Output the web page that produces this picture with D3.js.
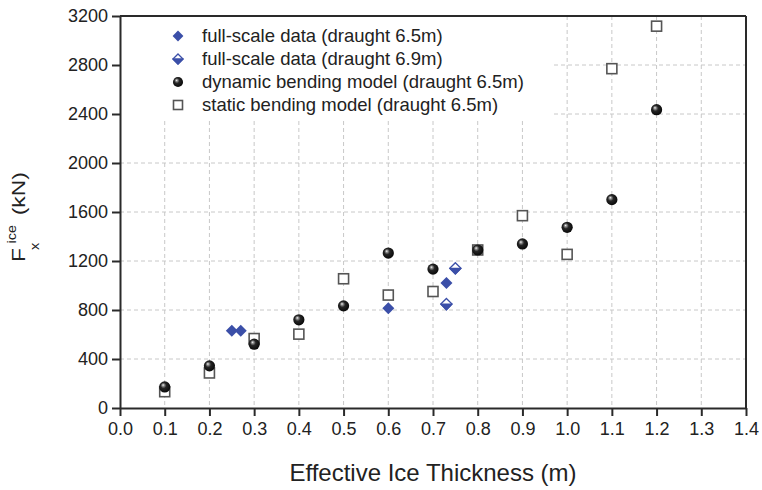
<!DOCTYPE html>
<html>
<head>
<meta charset="utf-8">
<script src="https://cdn.jsdelivr.net/npm/d3@7"></script>
<style>
  html, body { margin: 0; padding: 0; background: #fff; }
  svg { display: block; font-family: "Liberation Sans", Arial, Helvetica, sans-serif; }
</style>
</head>
<body>
<svg id="chart" width="762" height="490"></svg>
<script>
// Ice load vs. effective ice thickness
const xTicks = [0.0, 0.1, 0.2, 0.3, 0.4, 0.5, 0.6, 0.7, 0.8, 0.9, 1.0, 1.1, 1.2, 1.3, 1.4];
const yTicks = [0, 400, 800, 1200, 1600, 2000, 2400, 2800, 3200];

const thickness = [0.1, 0.2, 0.3, 0.4, 0.5, 0.6, 0.7, 0.8, 0.9, 1.0, 1.1, 1.2];
const dynamicModel = [172, 344, 521, 720, 834, 1265, 1134, 1290, 1339, 1475, 1701, 2435];
const staticModel = [133, 286, 567, 603, 1055, 922, 951, 1290, 1570, 1254, 2770, 3117];

const fullScale65X = [0.25, 0.27, 0.6, 0.73];
const fullScale65Y = [630, 630, 815, 1020];
const fullScale69X = [0.73, 0.75];
const fullScale69Y = [848, 1140];

const legendLabels = [
  "full-scale data (draught 6.5m)",
  "full-scale data (draught 6.9m)",
  "dynamic bending model (draught 6.5m)",
  "static bending model (draught 6.5m)"
];

const blue = "#3b4fa8";
const axisColor = "#2a2a2a";

const svg = d3.select("#chart");
const m = { left: 120, right: 746, top: 16, bottom: 408 };

const x = d3.scaleLinear().domain([0, 1.4]).range([m.left, m.right]);
const y = d3.scaleLinear().domain([0, 3200]).range([m.bottom, m.top]);

// sphere shading
const defs = svg.append("defs");
const grad = defs.append("radialGradient")
  .attr("id", "sphere").attr("cx", "0.45").attr("cy", "0.45").attr("r", "0.6")
  .attr("fx", "0.35").attr("fy", "0.32");
grad.append("stop").attr("offset", "0%").attr("stop-color", "#ffffff");
grad.append("stop").attr("offset", "15%").attr("stop-color", "#9a9a9a");
grad.append("stop").attr("offset", "42%").attr("stop-color", "#262626");
grad.append("stop").attr("offset", "100%").attr("stop-color", "#050505");

// grid
const grid = svg.append("g").attr("stroke", "#c8c8c8").attr("stroke-width", 1)
  .attr("stroke-dasharray", "4,3");
grid.selectAll("line.v").data(xTicks.slice(1, -1)).join("line")
  .attr("x1", d => x(d)).attr("x2", d => x(d))
  .attr("y1", m.top).attr("y2", m.bottom);
grid.selectAll("line.h").data(yTicks.slice(1, -1)).join("line")
  .attr("x1", m.left).attr("x2", m.right)
  .attr("y1", d => y(d)).attr("y2", d => y(d));

// legend panel
svg.append("rect").attr("x", m.left + 1).attr("y", m.top + 1)
  .attr("width", 553 - m.left - 1).attr("height", 118 - m.top - 1)
  .attr("fill", "#fff");

// marker drawing helpers (s = size scale)
function diamondPath(cx, cy, h) {
  return `M${cx},${cy - h}L${cx + h},${cy}L${cx},${cy + h}L${cx - h},${cy}Z`;
}
function lowerHalfPath(cx, cy, h) {
  return `M${cx - h},${cy}L${cx + h},${cy}L${cx},${cy + h}Z`;
}
function drawFilledDiamond(g, cx, cy, s) {
  g.append("path").attr("d", diamondPath(cx, cy, 6 * s)).attr("fill", blue);
}
function drawHalfDiamond(g, cx, cy, s) {
  const h = 5.6 * s;
  g.append("path").attr("d", diamondPath(cx, cy, h)).attr("fill", "#fff")
    .attr("stroke", blue).attr("stroke-width", 1.3);
  g.append("path").attr("d", lowerHalfPath(cx, cy, h)).attr("fill", blue)
    .attr("stroke", blue).attr("stroke-width", 1.3).attr("stroke-linejoin", "round");
}
function drawSphere(g, cx, cy, s) {
  g.append("circle").attr("cx", cx).attr("cy", cy).attr("r", 5.6 * s)
    .attr("fill", "url(#sphere)");
}
function drawSquare(g, cx, cy, s) {
  const h = 5 * s;
  g.append("rect").attr("x", cx - h).attr("y", cy - h)
    .attr("width", 2 * h).attr("height", 2 * h)
    .attr("fill", "#fff").attr("stroke", "#555").attr("stroke-width", 1.6);
}

// data marks
const pts = svg.append("g");
thickness.forEach((t, i) => drawSquare(pts, x(t), y(staticModel[i]), 1));
thickness.forEach((t, i) => drawSphere(pts, x(t), y(dynamicModel[i]), 1));
fullScale65X.forEach((t, i) => drawFilledDiamond(pts, x(t), y(fullScale65Y[i]), 1));
fullScale69X.forEach((t, i) => drawHalfDiamond(pts, x(t), y(fullScale69Y[i]), 1));

// legend
const lg = svg.append("g");
const legendRowsY = [36, 59, 82, 105];
const legendDraw = [drawFilledDiamond, drawHalfDiamond, drawSphere, drawSquare];
legendLabels.forEach((label, i) => {
  legendDraw[i](lg, 178, legendRowsY[i], 0.9);
  lg.append("text").attr("x", 202).attr("y", legendRowsY[i]).attr("dy", "0.35em")
    .attr("font-size", 18.5).attr("fill", "#222").text(label);
});

// frame
svg.append("line").attr("x1", m.left).attr("x2", m.right).attr("y1", m.top).attr("y2", m.top)
  .attr("stroke", axisColor).attr("stroke-width", 2);
svg.append("line").attr("x1", m.right).attr("x2", m.right).attr("y1", m.top).attr("y2", m.bottom)
  .attr("stroke", axisColor).attr("stroke-width", 2);

// axes
const xAxis = svg.append("g").attr("transform", `translate(0,${m.bottom})`)
  .call(d3.axisBottom(x).tickValues(xTicks).tickFormat(d3.format(".1f"))
    .tickSize(8).tickSizeOuter(0).tickPadding(6));
const yAxis = svg.append("g").attr("transform", `translate(${m.left},0)`)
  .call(d3.axisLeft(y).tickValues(yTicks).tickFormat(d3.format("d"))
    .tickSize(8).tickSizeOuter(0).tickPadding(4));
[xAxis, yAxis].forEach(a => {
  a.select(".domain").attr("stroke", axisColor).attr("stroke-width", 2);
  a.selectAll(".tick line").attr("stroke", axisColor).attr("stroke-width", 2);
  a.selectAll(".tick text").attr("font-size", 18).attr("fill", "#222")
    .attr("font-family", "'Liberation Sans', Arial, sans-serif");
});

// axis titles
svg.append("text").attr("x", (m.left + m.right) / 2).attr("y", 481)
  .attr("text-anchor", "middle").attr("font-size", 24).attr("fill", "#222")
  .text("Effective Ice Thickness (m)");

// y title: F with subscript x and superscript ice, slightly elongated along its axis
const yt = svg.append("g").attr("transform", "translate(25,262) rotate(-90) scale(1.2,1)")
  .attr("fill", "#222");
yt.append("text").attr("x", 0).attr("y", 0).attr("font-size", 19).text("F");
yt.append("text").attr("x", 10).attr("y", 14).attr("font-size", 12).text("x");
yt.append("text").attr("x", 15.5).attr("y", -9).attr("font-size", 12).text("ice");
yt.append("text").attr("x", 39).attr("y", 0).attr("font-size", 19).text("(kN)");
</script>
</body>
</html>
